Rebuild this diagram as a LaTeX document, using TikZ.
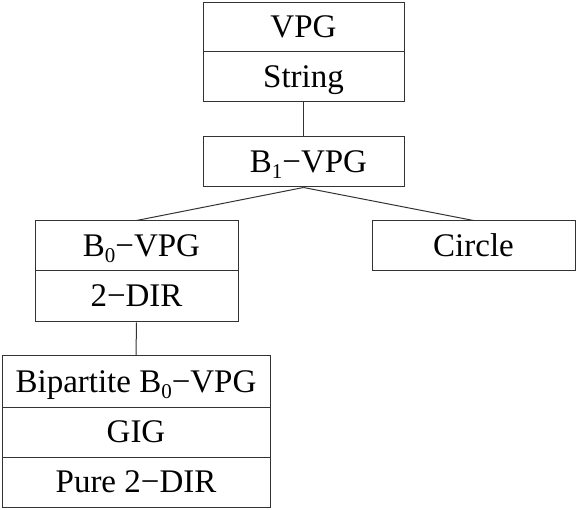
\documentclass[tikz,border=0pt]{standalone}
\usepackage{fontspec}
\setmainfont{Liberation Serif}
\newcommand\lowsub[1]{\raisebox{-6pt}{\fontsize{21}{21}\selectfont #1}}
\begin{document}
\begin{tikzpicture}[x=1pt,y=-1pt,
  cell/.style={draw=black!80, line width=1pt, rectangle, inner sep=0pt,
    font=\fontsize{33}{34}\selectfont, text height=21pt, text depth=0pt},
  link/.style={draw=black!80, line width=1pt}]
\useasboundingbox (0,0) rectangle (578,510);
\newcommand\cellat[6]{\node[cell, minimum width=#4-#2, minimum height=#5-#3] (#1) at ({(#2+#4)/2},{(#3+#5)/2}) {#6};}
\cellat{vpg}{203}{3}{404}{52}{VPG}
\cellat{string}{203}{52}{404}{102}{String}
\cellat{b1}{203}{137}{404}{187}{\hspace{10pt}B\lowsub{1}−VPG}
\cellat{b0}{35}{221}{238}{271}{\hspace{10pt}B\lowsub{0}−VPG}
\cellat{dir}{35}{271}{238}{322}{2−DIR}
\cellat{circ}{372}{221}{575}{271}{Circle}
\cellat{bip}{2}{356}{270}{407}{Bipartite B\lowsub{0}−VPG}
\cellat{gig}{2}{407}{270}{457}{GIG}
\cellat{pure}{2}{457}{270}{507}{Pure 2−DIR}
\draw[link] (string.south) -- (b1.north);
\draw[link] (b1.south) -- (b0.north);
\draw[link] (b1.south) -- (circ.north);
\draw[link] (dir.south) -- (bip.north);
\end{tikzpicture}
\end{document}
